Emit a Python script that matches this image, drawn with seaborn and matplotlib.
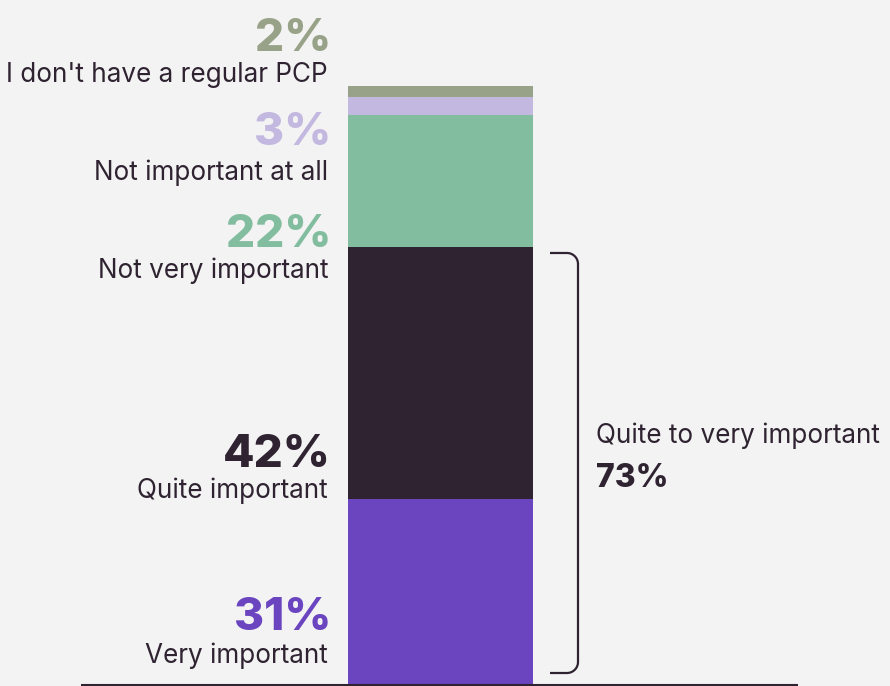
import matplotlib
matplotlib.use("Agg")
import matplotlib.pyplot as plt
import seaborn as sns
import numpy as np
from matplotlib.path import Path
from matplotlib.patches import PathPatch

# Survey answers, stacked bottom to top
categories = ["Very important", "Quite important", "Not very important",
              "Not important at all", "I don't have a regular PCP"]
values = [31, 42, 22, 3, 2]
bar_colors = ["#6a45bf", "#2f2331", "#83bd9f", "#c3b8e0", "#98a288"]
group_label = "Quite to very important"
group_value = 73

BG = "#f3f3f3"
INK = "#2f2331"
W, H = 890, 686

sns.set_theme(style="white")
plt.rcParams["font.family"] = ["Inter", "DejaVu Sans"]

fig = plt.figure(figsize=(W / 100, H / 100), dpi=100, facecolor=BG)
ax = fig.add_axes([0, 0, 1, 1])
ax.set_facecolor(BG)

# stacked single column
bottoms = np.concatenate([[0], np.cumsum(values)[:-1]])
for v, b, c in zip(values, bottoms, bar_colors):
    sns.barplot(x=["PCP"], y=[v], bottom=b, color=c, width=0.8,
                saturation=1, errorbar=None, linewidth=0, ax=ax)

# pixel-layout helpers (figure is laid out on an 890x686 grid)
PX_PER_X = 185 / 0.8
X0 = 440.5
Y_BASE = 684.5
PX_PER_PCT = 5.99


def dx(px):
    return (px - X0) / PX_PER_X


def dy(py):
    return (Y_BASE - py) / PX_PER_PCT


ax.set_xlim(dx(0), dx(W))
ax.set_ylim(dy(H), dy(0))
ax.set_axis_off()

# baseline rule
ax.plot([dx(81), dx(798)], [dy(685), dy(685)], color=INK, lw=1.5,
        solid_capstyle="butt", zorder=5)

# left-hand value and category labels
pct_base = [630, 467, 247, 145, 51]
lab_base = [663, 498, 278, 180, 82]
for cat, v, c, pb, lb in zip(categories, values, bar_colors, pct_base, lab_base):
    ax.text(dx(331), dy(pb), f"{v}%", ha="right", va="baseline",
            fontsize=33, fontweight="heavy", color=c)
    ax.text(dx(328), dy(lb), cat, ha="right", va="baseline",
            fontsize=18.8, color=INK)

# bracket around the two "important" answers
top_px, bot_px = 253, 673
xl, xr, r = 550, 578, 11
t = np.linspace(0, np.pi / 2, 20)
pts = [(xl, top_px), (xr - r, top_px)]
pts += [(xr - r + r * np.sin(a), top_px + r - r * np.cos(a)) for a in t]
pts += [(xr, bot_px - r)]
pts += [(xr - r + r * np.cos(a), bot_px - r + r * np.sin(a)) for a in t]
pts += [(xl, bot_px)]
verts = [(dx(px), dy(py)) for px, py in pts]
ax.add_patch(PathPatch(Path(verts), fill=False, edgecolor=INK, lw=1.6,
                       capstyle="butt", joinstyle="round"))

ax.text(dx(596), dy(443), group_label, ha="left", va="baseline",
        fontsize=18.8, color=INK)
ax.text(dx(596), dy(487), f"{group_value}%", ha="left", va="baseline",
        fontsize=23, fontweight="heavy", color=INK)

fig.savefig("out.png", dpi=100, facecolor=BG)
